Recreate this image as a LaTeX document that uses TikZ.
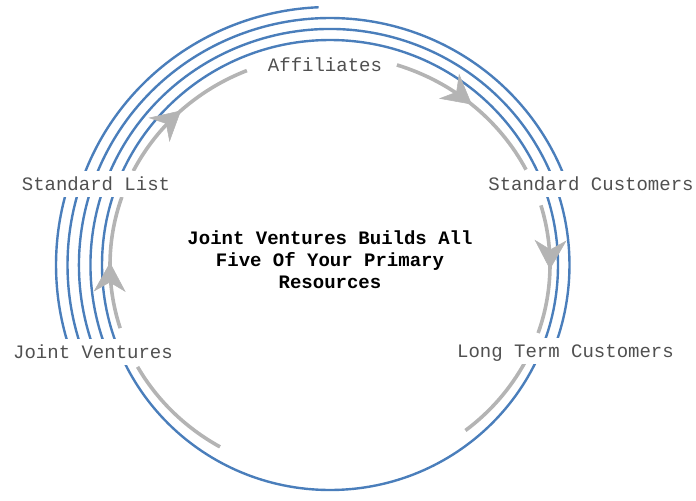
\documentclass[tikz,border=0pt]{standalone}
\usepackage{fontspec}
\setmainfont{Liberation Mono}
\usetikzlibrary{arrows.meta,decorations.markings}
\definecolor{ringblue}{RGB}{74,126,187}
\definecolor{flowgray}{RGB}{180,180,180}
\definecolor{labelgray}{RGB}{80,80,80}

\tikzset{
  ring/.style={draw=ringblue, line width=1.8pt},
  flow/.style={draw=flowgray, line width=2.7pt},
  midarrow/.style={postaction={decorate,decoration={markings,
      mark=at position 0.5 with {\arrow[flowgray]{Stealth[length=22pt,width=24pt,inset=7pt,line width=0.4pt]}}}}},
  stage/.style={fill=white, text=labelgray, font=\fontsize{14.25pt}{16.5pt}\selectfont,
      text height=11pt, text depth=2pt, inner xsep=2pt, inner ysep=2.9pt, anchor=base},
}

\begin{document}
\begin{tikzpicture}[x=0.75pt,y=0.75pt,yscale=-1,xscale=1]
\useasboundingbox (0,0) rectangle (696,500);

%Shape: Ring, inner loop
\draw[ring] (330,265) ellipse [x radius=228, y radius=225];
%Shape: Ring, outer arcs
\foreach \rx/\ry/\sa/\ea in {239.5/236/158.9/381.1, 251/247/159.9/340.9, 262.5/258/160.8/267.5, 274/269/161.6/197.5}
  \draw[ring] ({330+\rx*cos(\sa)},{265+\ry*sin(\sa)}) arc[start angle=\sa, end angle=\ea, x radius=\rx, y radius=\ry];

%Shape: Flow arrows
\foreach \sa/\ea in {162.5/198.9, 206.6/247.8, 287.7/333, 343.5/378.9}
  \draw[flow,midarrow] ({330+220*cos(\sa)},{265+210*sin(\sa)}) arc[start angle=\sa, end angle=\ea, x radius=220, y radius=210];
\foreach \sa/\ea in {387.5/412, 480/511}
  \draw[flow] ({330+220*cos(\sa)},{265+210*sin(\sa)}) arc[start angle=\sa, end angle=\ea, x radius=220, y radius=210];

%Text
\node[stage] (aff) at (325,71) {Affiliates};
\node[stage] (stdcust) at (591,190) {Standard Customers};
\node[stage] (ltcust) at (565.5,357) {Long Term Customers};
\node[stage] (jv) at (93,358) {Joint Ventures};
\node[stage] (stdlist) at (96,190) {Standard List};
\node[align=center, font=\fontsize{14.25pt}{16.5pt}\selectfont\bfseries] (title) at (330,260)
  {Joint Ventures Builds All\\Five Of Your Primary\\Resources};

\end{tikzpicture}
\end{document}
